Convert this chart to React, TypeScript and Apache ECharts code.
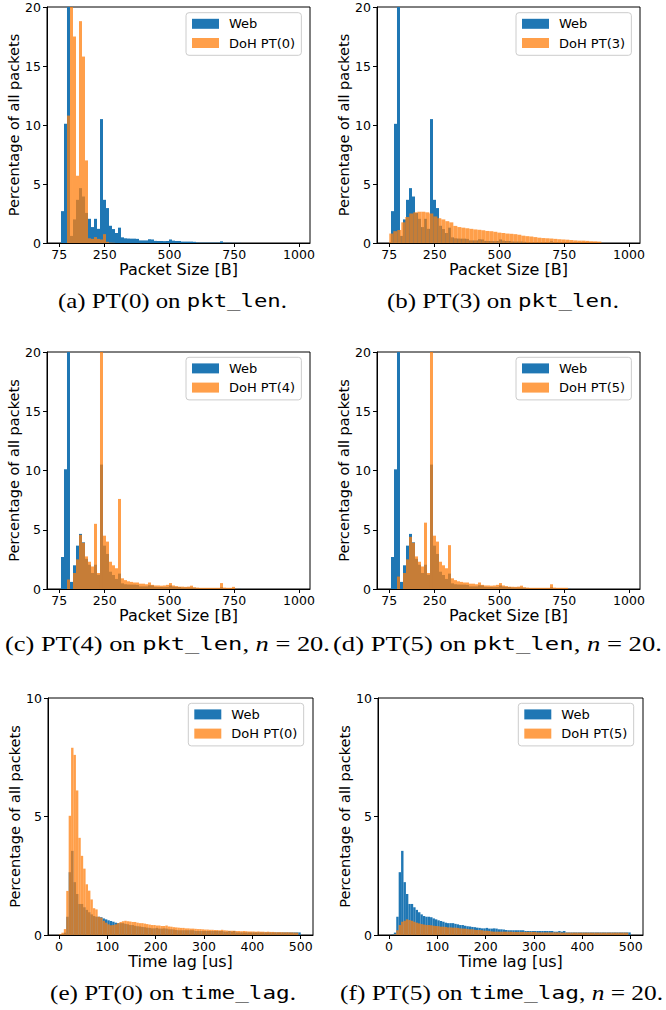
import React, { useEffect, useRef } from 'react';
import * as echarts from 'echarts';

// ---- histogram bin structure ----
const PKT_BIN_START = 81.5;
const PKT_BIN_WIDTH = 11.58;
const PT3_BIN_START = 75;
const PT3_BIN_WIDTH = 15.44;
const LAG_BIN_START = 0;
const LAG_BIN_WIDTH = 5;

// ---- tick labels ----
const pktTicks = [75, 250, 500, 750, 1000];
const lagTicks = [0, 100, 200, 300, 400, 500];

// ---- packet-size histograms (percentage of all packets) ----
const webPktLen = [
  2.7, 10.1, 28, 0.6, 2.0, 3.66, 4.65, 3.94, 2.55, 2.05,
  1.35, 2.05, 1.2, 10.5, 3.66, 2.96, 1.46, 1.18, 0.85, 1.3,
  0.48, 0.4, 0.38, 0.37, 0.37, 0.35, 0.22, 0.22, 0.22, 0.32,
  0.3, 0.18, 0.17, 0.17, 0.16, 0.17, 0.3, 0.2, 0.17, 0.17,
  0.12, 0.12, 0.12, 0.12, 0.1, 0.04, 0.03, 0.03, 0.03, 0.03,
  0.03, 0.03, 0.03, 0.14, 0.02, 0.02, 0.02, 0.01, 0.01, 0.01,
];
const dohPT0PktLen = [
  0, 0, 10.8, 24, 17.5, 5.7, 18.8, 15.8, 7.0, 0.4,
  0.35, 0.5, 0.35, 0.3, 0.75, 0.1, 0.03, 0.02,
];
const dohPT3PktLen = [
  0.8, 1.0, 1.1, 1.75, 2.2, 2.5, 2.6, 2.65, 2.65, 2.6,
  2.5, 2.25, 2.1, 2.0, 1.85, 1.75, 1.45, 1.35, 1.3, 1.25,
  1.2, 1.15, 1.12, 1.08, 1.02, 1.0, 0.95, 0.88, 0.85, 0.8,
  0.78, 0.75, 0.7, 0.62, 0.58, 0.55, 0.5, 0.45, 0.42, 0.4,
  0.38, 0.35, 0.32, 0.3, 0.28, 0.25, 0.22, 0.2, 0.2, 0.18,
  0.15, 0.14, 0.12,
];
const dohPT4PktLen = [
  0, 0, 0.8, 0, 1.35, 2.5, 4.57, 3.9, 2.75, 2.3,
  1.9, 5.5, 1.35, 28, 4.5, 4.0, 2.3, 2.0, 1.75, 7.6,
  0.9, 0.75, 0.65, 0.6, 0.55, 0.55, 0.45, 0.45, 0.4, 0.55,
  0.35, 0.3, 0.3, 0.28, 0.3, 0.35, 0.5, 0.3, 0.25, 0.2,
  0.2, 0.18, 0.2, 0.28, 0.15, 0.12, 0.1, 0.1, 0.1, 0.1,
  0.1, 0.1, 0.1, 0.5, 0.12, 0.1, 0.1, 0.18, 0.02,
];
const dohPT5PktLen = [
  0, 0, 1.05, 0, 1.35, 2.5, 4.4, 3.9, 2.75, 2.3,
  1.9, 5.6, 1.35, 28, 4.5, 4.0, 2.3, 2.0, 1.75, 3.7,
  0.9, 0.75, 0.65, 0.6, 0.55, 0.55, 0.45, 0.45, 0.4, 0.55,
  0.35, 0.3, 0.3, 0.28, 0.3, 0.35, 0.5, 0.3, 0.25, 0.2,
  0.2, 0.18, 0.2, 0.28, 0.15, 0.12, 0.1, 0.1, 0.1, 0.1,
  0.1, 0.1, 0.1, 0.4, 0.12, 0.1, 0.1, 0.1, 0.1,
];

// ---- time-lag histograms (percentage of all packets) ----
const webTimeLag = [
  0, 0.03, 0.1, 0.77, 2.65, 3.55, 2.23, 1.73, 1.31, 1.31,
  1.17, 1.06, 0.96, 0.87, 0.8, 0.77, 0.77, 0.75, 0.7, 0.66,
  0.62, 0.59, 0.56, 0.52, 0.5, 0.5, 0.5, 0.47, 0.45, 0.42,
  0.42, 0.39, 0.37, 0.36, 0.34, 0.33, 0.31, 0.3, 0.28, 0.28,
  0.3, 0.27, 0.27, 0.28, 0.27, 0.24, 0.24, 0.23, 0.21, 0.2,
  0.2, 0.2, 0.2, 0.2, 0.2, 0.2, 0.17, 0.17, 0.17, 0.17,
  0.17, 0.17, 0.17, 0.17, 0.17, 0.17, 0.17, 0.17, 0.14, 0.14,
  0.17, 0.14, 0.17, 0.11, 0.11, 0.11, 0.11, 0.11, 0.11, 0.11,
  0.11, 0.11, 0.11, 0.11, 0.11, 0.11, 0.11, 0.11, 0.11, 0.11,
  0.11, 0.11, 0.11, 0.11, 0.11, 0.11, 0.11, 0.11, 0.11, 0.11,
];
const dohPT0TimeLag = [
  0.03, 0.1, 0.25, 1.86, 5.03, 7.9, 7.6, 6.1, 4.1, 3.34,
  2.8, 2.14, 1.87, 1.5, 1.13, 1.08, 0.77, 0.73, 0.6, 0.52,
  0.45, 0.41, 0.42, 0.45, 0.5, 0.55, 0.58, 0.6, 0.58, 0.57,
  0.55, 0.55, 0.52, 0.5, 0.5, 0.48, 0.46, 0.44, 0.42, 0.42,
  0.4, 0.4, 0.38, 0.38, 0.4, 0.36, 0.35, 0.33, 0.32, 0.31,
  0.3, 0.3, 0.28, 0.28, 0.27, 0.27, 0.26, 0.25, 0.25, 0.24,
  0.23, 0.23, 0.22, 0.22, 0.21, 0.21, 0.2, 0.22, 0.2, 0.19,
  0.18, 0.18, 0.18, 0.17, 0.17, 0.16, 0.17, 0.16, 0.15, 0.15,
  0.15, 0.14, 0.15, 0.14, 0.14, 0.13, 0.14, 0.13, 0.13, 0.12,
  0.12, 0.12, 0.12, 0.11, 0.12, 0.11, 0.11, 0.1, 0.1,
];
const dohPT5TimeLag = [
  0, 0.01, 0.03, 0.2, 0.42, 0.56, 0.6, 0.66, 0.63, 0.6,
  0.56, 0.52, 0.49, 0.46, 0.44, 0.42, 0.42, 0.41, 0.39, 0.38,
  0.37, 0.35, 0.35, 0.34, 0.32, 0.32, 0.31, 0.31, 0.3, 0.28,
  0.27, 0.27, 0.25, 0.24, 0.24, 0.22, 0.21, 0.21, 0.2, 0.18,
  0.18, 0.17, 0.15, 0.14, 0.14, 0.14, 0.14, 0.14, 0.14, 0.14,
  0.14, 0.13, 0.13, 0.13, 0.13, 0.13, 0.13, 0.13, 0.13, 0.13,
  0.13, 0.11, 0.11, 0.11, 0.11, 0.11, 0.11, 0.11, 0.11, 0.11,
  0.11, 0.1, 0.1, 0.1, 0.1, 0.1, 0.1, 0.1, 0.1, 0.1,
  0.1, 0.1, 0.1, 0.1, 0.1, 0.1, 0.1, 0.1, 0.1, 0.1,
  0.1, 0.1, 0.1, 0.1, 0.1, 0.1, 0.1, 0.1, 0.1,
];

// ---- names ----
const webName = 'Web';
const dohNames = ['DoH PT(0)', 'DoH PT(3)', 'DoH PT(4)', 'DoH PT(5)', 'DoH PT(0)', 'DoH PT(5)'];
const yName = 'Percentage of all packets';
const pktName = 'Packet Size [B]';
const lagName = 'Time lag [us]';

const BLUE = '#1f77b4';
const ORANGE = 'rgba(255,127,14,0.75)';
const FONT = 'DejaVu Sans';

type Seg = [string, string];

const panels = [
  { grid: { left: 47, top: 7, width: 263, height: 236 }, kind: 'pkt', ymax: 20, legend: { left: 186, top: 12.7 },
    web: webPktLen, webStart: PKT_BIN_START, webW: PKT_BIN_WIDTH,
    doh: dohPT0PktLen, dohStart: PKT_BIN_START, dohW: PKT_BIN_WIDTH,
    cap: { left: 58, width: 229, y: 301, segs: [['s', '(a) PT(0) on '], ['m', 'pkt_len'], ['s', '.']] as Seg[] } },
  { grid: { left: 377, top: 7, width: 263, height: 236 }, kind: 'pkt', ymax: 20, legend: { left: 516, top: 12.7 },
    web: webPktLen, webStart: PKT_BIN_START, webW: PKT_BIN_WIDTH,
    doh: dohPT3PktLen, dohStart: PT3_BIN_START, dohW: PT3_BIN_WIDTH,
    cap: { left: 387, width: 232, y: 301, segs: [['s', '(b) PT(3) on '], ['m', 'pkt_len'], ['s', '.']] as Seg[] } },
  { grid: { left: 47, top: 352, width: 263, height: 237 }, kind: 'pkt', ymax: 20, legend: { left: 186, top: 357.3 },
    web: webPktLen, webStart: PKT_BIN_START, webW: PKT_BIN_WIDTH,
    doh: dohPT4PktLen, dohStart: PKT_BIN_START, dohW: PKT_BIN_WIDTH,
    cap: { left: 5, width: 325, y: 644, segs: [['s', '(c) PT(4) on '], ['m', 'pkt_len'], ['s', ', '], ['i', 'n'], ['s', ' = 20.']] as Seg[] } },
  { grid: { left: 377, top: 352, width: 263, height: 237 }, kind: 'pkt', ymax: 20, legend: { left: 516, top: 357.3 },
    web: webPktLen, webStart: PKT_BIN_START, webW: PKT_BIN_WIDTH,
    doh: dohPT5PktLen, dohStart: PKT_BIN_START, dohW: PKT_BIN_WIDTH,
    cap: { left: 333, width: 329, y: 644, segs: [['s', '(d) PT(5) on '], ['m', 'pkt_len'], ['s', ', '], ['i', 'n'], ['s', ' = 20.']] as Seg[] } },
  { grid: { left: 48, top: 698, width: 265, height: 237 }, kind: 'lag', ymax: 10, legend: { left: 188.3, top: 703.3 },
    web: webTimeLag, webStart: LAG_BIN_START, webW: LAG_BIN_WIDTH,
    doh: dohPT0TimeLag, dohStart: LAG_BIN_START, dohW: LAG_BIN_WIDTH,
    cap: { left: 50, width: 246, y: 993, segs: [['s', '(e) PT(0) on '], ['m', 'time_lag'], ['s', '.']] as Seg[] } },
  { grid: { left: 378, top: 698, width: 265, height: 237 }, kind: 'lag', ymax: 10, legend: { left: 518.3, top: 703.3 },
    web: webTimeLag, webStart: LAG_BIN_START, webW: LAG_BIN_WIDTH,
    doh: dohPT5TimeLag, dohStart: LAG_BIN_START, dohW: LAG_BIN_WIDTH,
    cap: { left: 340, width: 323, y: 993, segs: [['s', '(f) PT(5) on '], ['m', 'time_lag'], ['s', ', '], ['i', 'n'], ['s', ' = 20.']] as Seg[] } },
];

const capFonts: Record<string, { fontFamily: string; fontSize: number; fontStyle: string }> = {
  s: { fontFamily: 'Liberation Serif', fontSize: 20, fontStyle: 'normal' },
  m: { fontFamily: 'DejaVu Sans Mono', fontSize: 18, fontStyle: 'normal' },
  i: { fontFamily: 'Liberation Serif', fontSize: 20, fontStyle: 'italic' },
};

function histData(values: number[], start: number, width: number) {
  const out: number[][] = [];
  values.forEach((v, i) => {
    if (v > 0) out.push([start + i * width, start + (i + 1) * width, v]);
  });
  return out;
}

function histSeries(name: string, values: number[], start: number, width: number, color: string, idx: number) {
  return {
    type: 'custom',
    name,
    xAxisIndex: idx,
    yAxisIndex: idx,
    clip: true,
    itemStyle: { color },
    encode: { x: [0, 1], y: 2 },
    data: histData(values, start, width),
    renderItem: (params: any, api: any) => {
      const p0 = api.coord([api.value(0), api.value(2)]);
      const p1 = api.coord([api.value(1), 0]);
      return {
        type: 'rect',
        shape: { x: p0[0], y: p0[1], width: p1[0] - p0[0], height: p1[1] - p0[1] },
        style: { fill: color },
      };
    },
  };
}

export default function App() {
  const ref = useRef<HTMLDivElement>(null);
  useEffect(() => {
    if (!ref.current) return;
    const chart = echarts.init(ref.current, null, { renderer: 'svg' });
    const ctx = document.createElement('canvas').getContext('2d')!;
    const measureSegs = (segs: Seg[]) => {
      let w = 0;
      segs.forEach(([k, t]) => {
        const f = capFonts[k];
        ctx.font = `${f.fontStyle} ${f.fontSize}px "${f.fontFamily}"`;
        w += ctx.measureText(t).width;
      });
      return w;
    };

    const grids: any[] = [];
    const xAxes: any[] = [];
    const yAxes: any[] = [];
    const series: any[] = [];
    const legends: any[] = [];
    const graphics: any[] = [];

    panels.forEach((p, idx) => {
      grids.push({ ...p.grid, show: true, borderColor: '#000', borderWidth: 1, backgroundColor: 'transparent' });
      const isPkt = p.kind === 'pkt';
      const ticks = isPkt ? pktTicks : lagTicks;
      xAxes.push({
        type: 'value', gridIndex: idx,
        min: isPkt ? 27.5 : -22.75, max: isPkt ? 1042.5 : 525.4,
        splitLine: { show: false },
        axisLine: { show: true, onZero: false, lineStyle: { color: '#000', width: 1 } },
        axisTick: { show: true, length: 4, lineStyle: { color: '#000' }, customValues: ticks },
        axisLabel: { customValues: ticks, margin: 5, fontSize: 12.5, fontFamily: FONT, color: '#000',
          formatter: (v: number) => String(v) },
        name: isPkt ? pktName : lagName, nameLocation: 'middle', nameGap: 17,
        nameTextStyle: { fontSize: 16, fontFamily: FONT, color: '#000' },
      });
      yAxes.push({
        type: 'value', gridIndex: idx, min: 0, max: p.ymax, interval: 5,
        splitLine: { show: false },
        axisLine: { show: true, onZero: false, lineStyle: { color: '#000', width: 1 } },
        axisTick: { show: true, length: 4, lineStyle: { color: '#000' } },
        axisLabel: { margin: 6, fontSize: 12.5, fontFamily: FONT, color: '#000' },
        name: yName, nameLocation: 'middle', nameGap: 26,
        nameTextStyle: { fontSize: 14.5, fontFamily: FONT, color: '#000' },
      });
      series.push(histSeries(webName, p.web, p.webStart, p.webW, BLUE, idx));
      series.push(histSeries(dohNames[idx], p.doh, p.dohStart, p.dohW, ORANGE, idx));
      legends.push({
        left: p.legend.left, top: p.legend.top, orient: 'vertical',
        data: [webName, dohNames[idx]], icon: 'rect', itemWidth: 27, itemHeight: 10, itemGap: 6.2,
        padding: [4.6, 6.3, 5.8, 6], borderColor: '#cccccc', borderWidth: 1, borderRadius: 3,
        backgroundColor: 'rgba(255,255,255,0.8)', selectedMode: false,
        textStyle: { fontSize: 13, fontFamily: FONT, color: '#000', lineHeight: 12, padding: [0, 0, 0, 5] },
      });
      const natural = measureSegs(p.cap.segs);
      const rich: any = {};
      Object.keys(capFonts).forEach((k) => {
        rich[k] = { ...capFonts[k], fill: '#000' };
      });
      graphics.push({
        type: 'text', x: p.cap.left, y: p.cap.y, scaleX: p.cap.width / natural,
        style: {
          text: p.cap.segs.map(([k, t]) => `{${k}|${t}}`).join(''),
          rich, fill: '#000', align: 'left', verticalAlign: 'middle',
        },
      });
    });

    chart.setOption({
      animation: false,
      backgroundColor: '#fff',
      grid: grids,
      xAxis: xAxes,
      yAxis: yAxes,
      legend: legends,
      series,
      graphic: graphics,
    });
    return () => chart.dispose();
  }, []);
  return <div ref={ref} style={{ position: 'absolute', left: 0, top: 0, width: 666, height: 1010, background: '#fff' }} />;
}
